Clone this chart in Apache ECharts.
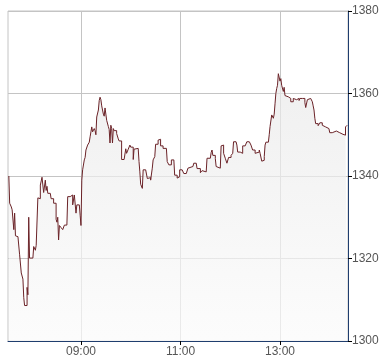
<!DOCTYPE html>
<html>
<head>
<meta charset="utf-8">
<script src="https://cdn.jsdelivr.net/npm/echarts@6/dist/echarts.min.js"></script>
<style>
html,body{margin:0;padding:0;background:#fff;}
#chart{width:390px;height:364px;}
</style>
</head>
<body>
<div id="chart"></div>
<script>
// time in minutes after midnight
var times = [453,454,455,456,457,458,459,460,461,463,464,466,468,470,471,472,474,475,476,477,478,482,483,485,486,487,488,490,491,493,494,495,497,498,499,500,503,504,506,507,509,510,511,512,513,514,516,518,520,523,524,527,529,530,532,533,534,535,538,539,540,541,542,544,545,546,547,548,550,551,552,553,554,556,557,558,559,561,562,563,564,565,567,568,569,570,571,573,574,575,576,577,578,579,580,582,583,585,586,588,589,592,594,595,597,599,600,603,604,606,609,610,611,612,614,615,618,620,622,624,626,627,629,630,633,635,636,639,643,644,646,649,652,653,656,658,659,662,664,667,669,671,675,676,679,680,682,684,686,688,691,692,696,697,698,699,702,703,705,708,709,711,712,714,716,718,721,723,724,727,728,729,732,734,735,738,740,743,745,747,750,752,755,756,758,759,761,762,763,766,767,768,769,770,772,773,774,775,776,777,778,779,780,781,782,784,785,786,787,790,792,793,796,798,800,803,804,807,809,810,811,813,815,817,819,820,821,822,823,826,828,831,833,835,837,839,840,843,845,848,850,852,854,856,858,859,861];
var prices = [1340.0,1333.4,1333.0,1332.5,1331.8,1331.8,1327.0,1331.0,1325.5,1325.3,1325.3,1320.9,1316.5,1315.0,1310.5,1308.6,1308.6,1313.0,1311.2,1330.0,1320.1,1320.1,1322.9,1322.0,1323.2,1322.8,1334.7,1334.5,1337.8,1339.7,1339.6,1336.0,1339.0,1336.5,1337.5,1335.8,1335.8,1334.5,1334.5,1333.4,1333.4,1329.5,1328.8,1330.0,1324.5,1328.0,1327.5,1327.0,1328.1,1328.1,1335.0,1335.0,1335.4,1333.0,1335.4,1335.0,1331.0,1333.0,1333.0,1330.5,1328.0,1339.0,1341.5,1343.9,1344.5,1346.3,1346.7,1347.5,1348.2,1349.5,1350.7,1351.9,1350.7,1351.5,1351.0,1350.0,1354.3,1356.0,1358.3,1359.1,1358.5,1357.0,1355.0,1354.5,1356.5,1356.5,1353.5,1352.0,1351.3,1348.0,1352.3,1351.5,1348.0,1351.5,1351.0,1351.0,1350.3,1349.0,1348.5,1348.5,1344.0,1344.0,1346.6,1345.5,1346.5,1347.5,1347.0,1344.0,1346.5,1346.7,1346.7,1343.5,1341.0,1338.0,1337.0,1341.5,1341.5,1339.4,1339.6,1339.0,1341.9,1343.9,1344.7,1347.7,1348.7,1348.9,1347.3,1346.7,1346.7,1343.5,1342.7,1343.9,1344.0,1340.2,1339.5,1339.8,1341.5,1341.5,1340.6,1341.0,1341.9,1342.3,1342.3,1343.1,1343.1,1341.8,1341.8,1340.8,1341.3,1341.0,1341.0,1344.3,1344.3,1345.7,1346.3,1345.0,1344.2,1342.3,1341.9,1342.3,1347.3,1347.5,1345.5,1344.3,1343.1,1344.5,1345.0,1345.5,1348.3,1348.3,1347.5,1345.8,1345.5,1345.5,1347.3,1347.7,1348.3,1348.0,1347.5,1346.3,1345.5,1345.8,1346.3,1345.5,1343.6,1343.8,1344.7,1347.5,1348.2,1348.5,1350.0,1352.0,1352.3,1354.8,1354.0,1355.0,1357.5,1360.0,1361.2,1362.0,1364.8,1364.5,1363.0,1363.6,1362.0,1360.5,1361.5,1359.5,1359.2,1358.8,1358.8,1358.0,1358.8,1358.5,1358.8,1358.3,1358.8,1358.5,1358.8,1357.8,1356.6,1358.5,1358.8,1358.5,1358.0,1357.0,1356.0,1354.0,1352.7,1352.2,1352.9,1352.3,1351.9,1352.0,1351.5,1351.5,1350.5,1350.7,1350.9,1350.5,1350.5,1350.7,1350.1,1350.0,1349.9,1351.9,1352.3];
var xTickTimes = [540, 660, 780];
var yMin = 1300, yMax = 1380, yStep = 20;
var xMin = 452, xMax = 862;

function fmtTime(m) {
  var h = Math.floor(m / 60), mm = m % 60;
  return (h < 10 ? '0' : '') + h + ':' + (mm < 10 ? '0' : '') + mm;
}

var data = times.map(function (t, i) { return [t, prices[i]]; });

var chart = echarts.init(document.getElementById('chart'));
chart.setOption({
  animation: false,
  backgroundColor: '#ffffff',
  grid: { left: 8, right: 42, top: 11, bottom: 23, show: true, borderColor: '#c4c4c4', borderWidth: 1, backgroundColor: 'transparent' },
  xAxis: {
    type: 'value', min: xMin, max: xMax,
    axisLine: { show: true, lineStyle: { color: '#1f3d6e', width: 1 } },
    axisTick: { show: true, customValues: xTickTimes, length: 4, lineStyle: { color: '#000' } },
    axisLabel: { customValues: xTickTimes, formatter: function (v) { return fmtTime(v); }, color: '#555', fontSize: 12, fontFamily: 'Liberation Sans, Arial, sans-serif', margin: 5 },
    splitLine: { show: true, lineStyle: { color: '#c4c4c4', width: 1 } }
  },
  yAxis: {
    type: 'value', position: 'right', min: yMin, max: yMax, interval: yStep,
    axisLine: { show: true, lineStyle: { color: '#1f3d6e', width: 1 } },
    axisTick: { show: true, length: 4, lineStyle: { color: '#000' } },
    axisLabel: { formatter: function (v) { return String(v); }, color: '#555', fontSize: 12, fontFamily: 'Liberation Sans, Arial, sans-serif', margin: 4 },
    splitLine: { show: true, lineStyle: { color: '#c4c4c4', width: 1 } }
  },
  series: [{
    type: 'line',
    data: data,
    step: 'end',
    symbol: 'none',
    lineStyle: { color: '#6b2328', width: 1 },
    areaStyle: {
      origin: 'start',
      color: new echarts.graphic.LinearGradient(0, 0, 0, 1, [
        { offset: 0, color: '#e9e9e9' },
        { offset: 1, color: '#fbfbfb' }
      ])
    }
  }]
});
</script>
</body>
</html>
